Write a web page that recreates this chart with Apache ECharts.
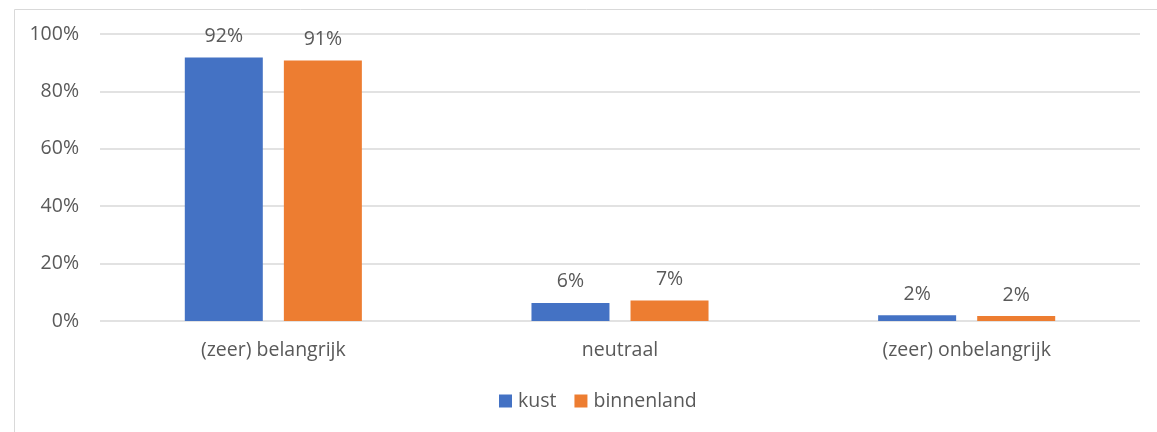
<!DOCTYPE html>
<html>
<head>
<meta charset="utf-8">
<script src="https://cdn.jsdelivr.net/npm/echarts@6/dist/echarts.min.js"></script>
<style>
    html, body { margin: 0; padding: 0; background: #ffffff; }
    #chart { width: 1157px; height: 432px; }
</style>
</head>
<body>
<div id="chart"></div>
<script>
// Data
// ------------------------------

var categories = ['(zeer) belangrijk', 'neutraal', '(zeer) onbelangrijk'];
var kustValues = [91.8, 6.3, 2.0];
var binnenlandValues = [90.8, 7.1, 1.7];
var yTicks = [0, 20, 40, 60, 80, 100];


// Chart
// ------------------------------

var chart_element = document.getElementById('chart');
var chart = echarts.init(chart_element, null, { renderer: 'canvas' });

var textColor = '#595959';
var fontFamily = '"Open Sans", "Noto Sans", sans-serif';
var fontSize = 19.5;

chart.setOption({
    animation: false,
    color: ['#4472c4', '#ed7d31'],
    textStyle: {
        fontFamily: fontFamily,
        color: textColor
    },

    // Outer chart border
    graphic: [{
        type: 'rect',
        left: 12,
        top: 7,
        shape: { width: 1300, height: 600 },
        style: { fill: 'none', stroke: '#d9d9d9', lineWidth: 1 },
        silent: true
    }],

    grid: {
        left: 100,
        right: 17,
        top: 34,
        bottom: 111,
        containLabel: false
    },

    legend: {
        left: 494,
        top: 386,
        itemWidth: 13,
        itemHeight: 13,
        itemGap: 18,
        icon: 'rect',
        selectedMode: false,
        textStyle: {
            fontFamily: fontFamily,
            fontSize: fontSize,
            color: textColor,
            padding: [0, 0, 0, 1]
        }
    },

    xAxis: {
        type: 'category',
        data: categories,
        axisLine: { show: false },
        axisTick: { show: false },
        axisLabel: {
            fontFamily: fontFamily,
            fontSize: fontSize,
            color: textColor,
            margin: 19
        }
    },

    yAxis: {
        type: 'value',
        min: yTicks[0],
        max: yTicks[yTicks.length - 1],
        interval: 20,
        axisLine: { show: false },
        axisTick: { show: false },
        splitLine: { lineStyle: { color: '#d9d9d9', width: 1.5 } },
        axisLabel: {
            fontFamily: fontFamily,
            fontSize: fontSize,
            color: textColor,
            margin: 21,
            formatter: '{value}%'
        }
    },

    series: [
        {
            name: 'kust',
            type: 'bar',
            data: kustValues,
            barWidth: '22.5%',
            barGap: '27%',
            label: {
                show: true,
                position: 'top',
                distance: 11,
                fontFamily: fontFamily,
                fontSize: fontSize,
                color: textColor,
                formatter: function (p) { return Math.round(p.value) + '%'; }
            }
        },
        {
            name: 'binnenland',
            type: 'bar',
            data: binnenlandValues,
            barWidth: '22.5%',
            barGap: '27%',
            label: {
                show: true,
                position: 'top',
                distance: 11,
                fontFamily: fontFamily,
                fontSize: fontSize,
                color: textColor,
                formatter: function (p) { return Math.round(p.value) + '%'; }
            }
        }
    ]
});

window.addEventListener('resize', function () {
    chart.resize();
});
</script>
</body>
</html>
